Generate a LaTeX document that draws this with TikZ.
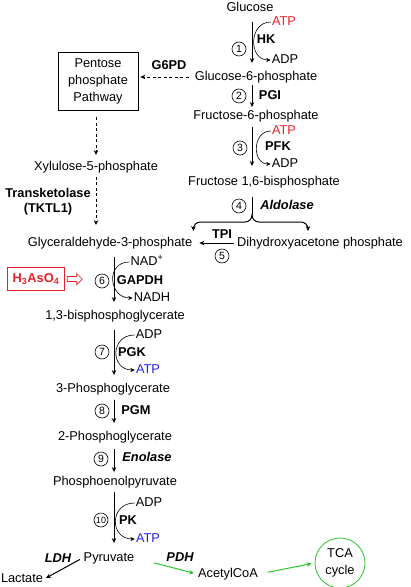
\documentclass[tikz,border=0pt]{standalone}
\usepackage{fontspec}
\setmainfont{Liberation Sans}
\usetikzlibrary{positioning, calc, arrows.meta, shapes.arrows}
\definecolor{AtpRed}{HTML}{E62129}
\definecolor{AtpBlue}{HTML}{2020E0}
\definecolor{FluxGreen}{HTML}{2BC42B}

\begin{document}
\begin{tikzpicture}[
  x=1bp, y=-1bp,
  met/.style={inner sep=1bp, text height=9bp, text depth=2.5bp,
    font=\fontsize{12.8bp}{15bp}\selectfont},
  enz/.style={met, font=\fontsize{12.8bp}{15bp}\selectfont\bfseries},
  enzit/.style={met, font=\fontsize{12.8bp}{15bp}\selectfont\bfseries\itshape},
  num/.style={circle, draw, line width=0.6bp, minimum size=14bp, inner sep=0pt,
    font=\fontsize{10.5bp}{10.5bp}\selectfont},
  rxn/.style={-{Stealth[length=5bp, width=4.5bp]}, line width=1bp},
  cof/.style={-{Stealth[length=4.5bp, width=4bp]}, line width=0.6bp},
  side/.style={-{Stealth[length=5bp, width=4.5bp]}, line width=0.9bp,
    dash pattern=on 3bp off 2.5bp},
  flux/.style={-{Stealth[length=5bp, width=4.5bp]}, line width=1bp, color=FluxGreen}
]
  \useasboundingbox (0,0) rectangle (410,587);

  % upper half of the pathway
  \node[met] (glc) at (250,8) {Glucose};
  \node[met, text=AtpRed] (atp1) at (284,22) {ATP};
  \node[enz] (hk) at (266,40) {HK};
  \node[num] (s1) at (239,49) {1};
  \node[met] (adp1) at (285,60) {ADP};
  \node[met] (g6p) at (256,77) {Glucose-6-phosphate};
  \node[num] (s2) at (239,96) {2};
  \node[enz] (pgi) at (270,96) {PGI};
  \node[met] (f6p) at (256,116) {Fructose-6-phosphate};
  \node[met, text=AtpRed] (atp3) at (284,131) {ATP};
  \node[enz] (pfk) at (278,147) {PFK};
  \node[num] (s3) at (240,148) {3};
  \node[met] (adp3) at (285,164) {ADP};
  \node[met] (fbp) at (264,182) {Fructose 1,6-bisphosphate};
  \node[num] (s4) at (239,206) {4};
  \node[enzit] (aldo) at (287,206) {Aldolase};
  \node[met] (gap) at (110,243) {Glyceraldehyde-3-phosphate};
  \node[met] (dhap) at (320,243) {Dihydroxyacetone phosphate};
  \node[enz] (tpi) at (222,235) {TPI};
  \node[num] (s5) at (222,256) {5};

  % pentose phosphate branch
  \node[draw, line width=0.7bp, minimum width=80bp, minimum height=58bp, align=center,
    font=\fontsize{12.8bp}{17bp}\selectfont] (ppp) at (98,81) {Pentose\\phosphate\\Pathway};
  \node[enz] (g6pd) at (169,66) {G6PD};
  \node[met] (xu5p) at (96,167) {Xylulose-5-phosphate};
  \node[align=center, inner sep=1bp, font=\fontsize{12.8bp}{15bp}\selectfont\bfseries]
    (tktl) at (48,202) {Transketolase\\(TKTL1)};

  % lower half of the pathway
  \node[met] (nad) at (147,262) {NAD\textsuperscript{+}};
  \node[enz] (gapdh) at (140,281) {GAPDH};
  \node[num] (s6) at (102,281) {6};
  \node[met] (nadh) at (152,298) {NADH};
  \node[draw=AtpRed, text=AtpRed, line width=0.8bp, minimum width=57bp, minimum height=23bp,
    inner sep=1bp, font=\fontsize{12.8bp}{15bp}\selectfont\bfseries]
    (ars) at (36,279) {H\textsubscript{3}AsO\textsubscript{4}};
  \node[single arrow, draw=AtpRed, line width=0.7bp, minimum height=15bp, inner sep=2.2bp,
    single arrow head extend=3bp, right=2bp of ars] (hollow) {};
  \node[met] (bpg) at (115,316) {1,3-bisphosphoglycerate};
  \node[met] (adp7) at (149,335) {ADP};
  \node[enz] (pgk) at (132,353) {PGK};
  \node[num] (s7) at (102,352) {7};
  \node[met, text=AtpBlue] (atp7) at (148,370) {ATP};
  \node[met] (pg3) at (113,389) {3-Phosphoglycerate};
  \node[num] (s8) at (102,411) {8};
  \node[enz] (pgm) at (136,411) {PGM};
  \node[met] (pg2) at (115,437) {2-Phosphoglycerate};
  \node[num] (s9) at (101,459) {9};
  \node[enzit] (eno) at (147,458) {Enolase};
  \node[met] (pep) at (115,482) {Phosphoenolpyruvate};
  \node[met] (adp10) at (149,503) {ADP};
  \node[enz] (pk) at (128,521) {PK};
  \node[num, font=\fontsize{9bp}{9bp}\selectfont] (s10) at (101,520) {10};
  \node[met, text=AtpBlue] (atp10) at (148,539) {ATP};
  \node[met] (pyr) at (109,558) {Pyruvate};
  \node[enzit] (ldh) at (58,559) {LDH};
  \node[met] (lac) at (22,579) {Lactate};
  \node[enzit] (pdh) at (180,558) {PDH};
  \node[met] (accoa) at (228,574) {AcetylCoA};
  \node[circle, draw=FluxGreen, line width=0.8bp, minimum size=50bp, inner sep=0pt, align=center,
    font=\fontsize{12.8bp}{17bp}\selectfont] (tca) at (340,563) {TCA\\cycle};

  \coordinate (upcol) at (252,0);
  \coordinate (lowcol) at (114,0);
  \coordinate (split) at (252,214);

  % main reactions
  \draw[rxn, shorten <=7bp, shorten >=7bp] (glc.south -| upcol) -- (g6p.north -| upcol);
  \draw[rxn, shorten <=1.5bp, shorten >=2bp] (g6p.south -| upcol) -- (f6p.north -| upcol);
  \draw[rxn, shorten <=4bp, shorten >=9bp] (f6p.south -| upcol) -- (fbp.north -| upcol);
  \draw[line width=1bp, shorten <=8bp] (fbp.south -| upcol) -- (split);
  \draw[rxn, rounded corners=7bp, shorten >=5bp] (split) -- ++(0,8) -| (gap.north east);
  \draw[rxn, rounded corners=7bp, shorten >=5bp] (split) -- ++(0,8) -| ($(dhap.north)+(-12,0)$);
  \draw[rxn, shorten <=2bp, shorten >=6bp] (dhap.west) -- (gap.east);
  \draw[rxn, shorten <=7bp, shorten >=7bp] (gap.south -| lowcol) -- (bpg.north -| lowcol);
  \draw[rxn, shorten <=7bp, shorten >=7bp] (bpg.south -| lowcol) -- (pg3.north -| lowcol);
  \draw[rxn, shorten <=4bp, shorten >=7bp] (pg3.south -| lowcol) -- (pg2.north -| lowcol);
  \draw[rxn, shorten <=5bp, shorten >=3bp] (pg2.south -| lowcol) -- (pep.north -| lowcol);
  \draw[rxn, shorten <=3bp, shorten >=8bp] (pep.south -| lowcol) -- (pyr.north -| lowcol);
  \draw[rxn, shorten <=3bp, shorten >=2bp] (pyr.west) -- (lac.east);
  \draw[flux, shorten <=19bp, shorten >=3bp] (pyr.east) -- (accoa.west);
  \draw[flux, shorten <=9bp, shorten >=3bp] (accoa.east) -- (tca.west);

  % cofactors
  \draw[cof] (atp1.west) to[out=180, in=180, looseness=1.5] (adp1.west);
  \draw[cof] (atp3.west) to[out=180, in=180, looseness=1.45] (adp3.west);
  \draw[cof] (nad.west) to[out=180, in=180, looseness=1.7] (nadh.west);
  \draw[cof] (adp7.west) to[out=180, in=180, looseness=1.8] (atp7.west);
  \draw[cof] (adp10.west) to[out=180, in=180, looseness=1.8] (atp10.west);

  % side branch
  \draw[side, shorten <=5bp, shorten >=2bp] (g6p.west) -- (g6p.west -| ppp.east);
  \draw[side, shorten <=7bp, shorten >=5bp] (xu5p.north |- ppp.south) -- (xu5p.north);
  \draw[side, shorten <=3bp, shorten >=11bp] (xu5p.south) -- (xu5p.south |- gap.north);
\end{tikzpicture}
\end{document}
